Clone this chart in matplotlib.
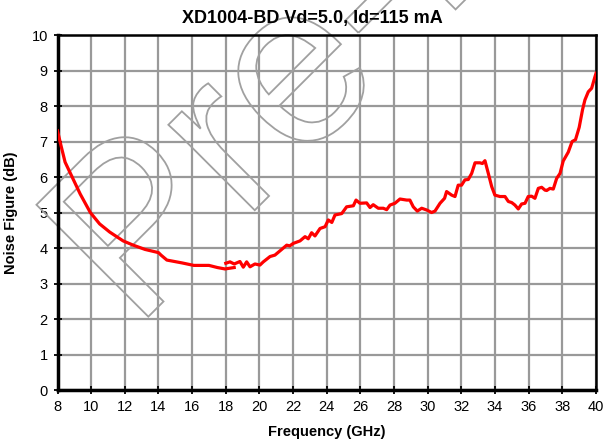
import numpy as np
import matplotlib
matplotlib.use("Agg")
import matplotlib.pyplot as plt
from matplotlib.textpath import TextPath
from matplotlib.patches import PathPatch
from matplotlib.font_manager import FontProperties
from matplotlib.transforms import Affine2D

plt.rcParams['font.family'] = ['Liberation Sans', 'DejaVu Sans']

# low band sweep
freq_lo = [8.0, 8.2, 8.45, 8.85, 9.35, 9.95, 10.5, 11.1, 11.9, 12.5, 13.2,
           14.0, 14.15, 14.5, 15.4, 16.1, 17.0, 17.5, 17.95, 18.5]
nf_lo = [7.3, 6.9, 6.42, 6.02, 5.52, 5.0, 4.68, 4.45, 4.2, 4.08, 3.96,
         3.87, 3.8, 3.66, 3.58, 3.51, 3.51, 3.45, 3.41, 3.45]

# high band sweep
freq_hi = [18.0, 18.25, 18.5, 18.84, 19.04, 19.24, 19.44, 19.73, 20.03, 20.23,
           20.63, 20.92, 21.32, 21.62, 21.8, 22.01, 22.41, 22.71, 22.9, 23.1,
           23.3, 23.6, 23.9, 24.09, 24.3, 24.49, 24.89, 25.18, 25.58, 25.74,
           25.97, 26.37, 26.57, 26.76, 27.06, 27.36, 27.56, 27.76, 28.05, 28.35,
           28.75, 28.94, 29.14, 29.38, 29.64, 29.94, 30.23, 30.43, 30.73, 31.0,
           31.12, 31.42, 31.62, 31.81, 32.01, 32.21, 32.41, 32.61, 32.81, 33.1,
           33.25, 33.4, 33.6, 33.8, 33.99, 34.29, 34.59, 34.79, 34.99, 35.18,
           35.38, 35.58, 35.78, 35.97, 36.17, 36.37, 36.57, 36.77, 36.97, 37.07,
           37.26, 37.46, 37.66, 37.86, 38.05, 38.35, 38.58, 38.78, 39.0, 39.2,
           39.34, 39.54, 39.74, 39.94, 40.0]
nf_hi = [3.57, 3.61, 3.55, 3.62, 3.46, 3.61, 3.47, 3.55, 3.52, 3.61,
         3.76, 3.80, 3.96, 4.08, 4.06, 4.13, 4.20, 4.32, 4.26, 4.43,
         4.34, 4.55, 4.60, 4.79, 4.72, 4.93, 4.97, 5.16, 5.19, 5.35,
         5.26, 5.27, 5.14, 5.22, 5.12, 5.12, 5.08, 5.21, 5.26, 5.38,
         5.35, 5.35, 5.16, 5.04, 5.12, 5.07, 5.00, 5.04, 5.26, 5.40,
         5.59, 5.49, 5.45, 5.77, 5.77, 5.92, 5.93, 6.10, 6.40, 6.40,
         6.38, 6.46, 6.10, 5.73, 5.49, 5.45, 5.45, 5.31, 5.28, 5.21,
         5.10, 5.24, 5.26, 5.45, 5.46, 5.40, 5.68, 5.71, 5.63, 5.62,
         5.68, 5.66, 5.96, 6.10, 6.45, 6.70, 7.0, 7.05, 7.4, 7.9,
         8.17, 8.40, 8.50, 8.83, 8.92]

x_ticks = list(range(8, 41, 2))
y_ticks = list(range(0, 11))

fig = plt.figure(figsize=(6.04, 4.47), dpi=100)
ax = fig.add_axes([0.0952, 0.1275, 0.8916, 0.7942])

ax.plot(freq_lo, nf_lo, color='#FF0000', lw=2.3, zorder=3)
ax.plot(freq_hi, nf_hi, color='#FF0000', lw=2.3, zorder=3)

ax.set_xlim(8, 40)
ax.set_ylim(0, 10)
ax.set_xticks(x_ticks)
ax.set_yticks(y_ticks)
ax.grid(True, color='#999999', lw=1.6)
ax.set_axisbelow(True)
ax.tick_params(direction='inout', length=6, width=1.3, color='black',
               labelsize=10.5, pad=4)

for side in ['left', 'bottom']:
    ax.spines[side].set_linewidth(2.5)
for side in ['top', 'right']:
    ax.spines[side].set_linewidth(1.8)

ax.set_xlabel('Frequency (GHz)', fontsize=10.5, fontweight='bold', labelpad=8)
ax.set_ylabel('Noise Figure (dB)', fontsize=10.5, fontweight='bold', labelpad=10)
fig.text(312 / 604, 1 - 18 / 447, 'XD1004-BD Vd=5.0, Id=115 mA', fontsize=13,
         fontweight='bold', ha='center', va='center')

# outlined watermark
tp = TextPath((0, 0), 'Pre-Release', size=230,
              prop=FontProperties(family='Liberation Sans'))
wm = PathPatch(tp, facecolor='none', edgecolor='#A0A0A0', lw=1.3,
               transform=Affine2D().rotate_deg(45).translate(135, 117),
               clip_on=False, zorder=2)
ax.add_artist(wm)

fig.savefig('out.png', dpi=100)
